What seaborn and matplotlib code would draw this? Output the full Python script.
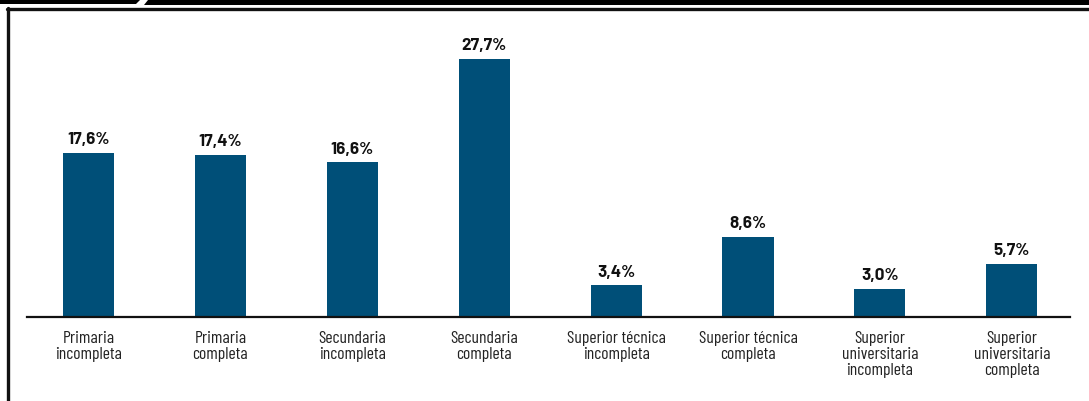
import matplotlib
matplotlib.use("Agg")
import matplotlib.pyplot as plt
from matplotlib.patches import Polygon
from matplotlib.lines import Line2D
import seaborn as sns
import pandas as pd

categories = [
    "Primaria\nincompleta",
    "Primaria\ncompleta",
    "Secundaria\nincompleta",
    "Secundaria\ncompleta",
    "Superior técnica\nincompleta",
    "Superior técnica\ncompleta",
    "Superior\nuniversitaria\nincompleta",
    "Superior\nuniversitaria\ncompleta",
]
values = [17.6, 17.4, 16.6, 27.7, 3.4, 8.6, 3.0, 5.7]
value_labels = ["17,6%", "17,4%", "16,6%", "27,7%", "3,4%", "8,6%", "3,0%", "5,7%"]

sns.set_theme(style="white")
plt.rcParams["font.family"] = ["Barlow Condensed", "DejaVu Sans"]

W, H = 1089, 401
fig = plt.figure(figsize=(W / 100, H / 100), dpi=100)
fig.patch.set_facecolor("white")

# axes placed in pixel terms: baseline at y=317, x axis from 27 to 1070
left, right = 27, 1070
base_y, top_y = 317, 38
ax = fig.add_axes([left / W, (H - base_y) / H, (right - left) / W, (base_y - top_y) / H])

df = pd.DataFrame({"cat": categories, "val": values})
bar_color = "#004f78"
sns.barplot(data=df, x="cat", y="val", color=bar_color, width=0.387,
            saturation=1, linewidth=0, ax=ax)

ax.set_xlim(-0.466, 7.441)
ax.set_ylim(0, 29.95)
ax.set_xlabel("")
ax.set_ylabel("")
ax.set_yticks([])
for s in ["top", "right", "left"]:
    ax.spines[s].set_visible(False)
ax.spines["bottom"].set_color("#111111")
ax.spines["bottom"].set_linewidth(1.6)
ax.tick_params(axis="x", length=0, pad=10, labelsize=12.7, colors="#222222")
for t in ax.get_xticklabels():
    t.set_linespacing(1.1)

for i, (v, lab) in enumerate(zip(values, value_labels)):
    ax.annotate(lab, (i, v), xytext=(0, 4), textcoords="offset points",
                ha="center", va="bottom", fontsize=12.3, fontweight="bold",
                family=["Barlow", "DejaVu Sans"], color="#111111")

# frame: top band with slanted notch, top rule and left rule
def px(x, y):
    return (x / W, 1 - y / H)

fig.patches.append(Polygon([px(0, 0), px(140, 0), px(136, 4), px(0, 4)],
                           closed=True, transform=fig.transFigure,
                           facecolor="black", edgecolor="none"))
fig.patches.append(Polygon([px(148, 0), px(W, 0), px(W, 5), px(144, 5)],
                           closed=True, transform=fig.transFigure,
                           facecolor="black", edgecolor="none"))
fig.lines.append(Line2D([7 / W, 1], [1 - 9 / H, 1 - 9 / H], transform=fig.transFigure,
                        color="#111111", linewidth=2.4))
fig.lines.append(Line2D([8 / W, 8 / W], [1 - 8 / H, 0], transform=fig.transFigure,
                        color="#111111", linewidth=2.4))

fig.savefig("out.png", dpi=100, facecolor="white")
